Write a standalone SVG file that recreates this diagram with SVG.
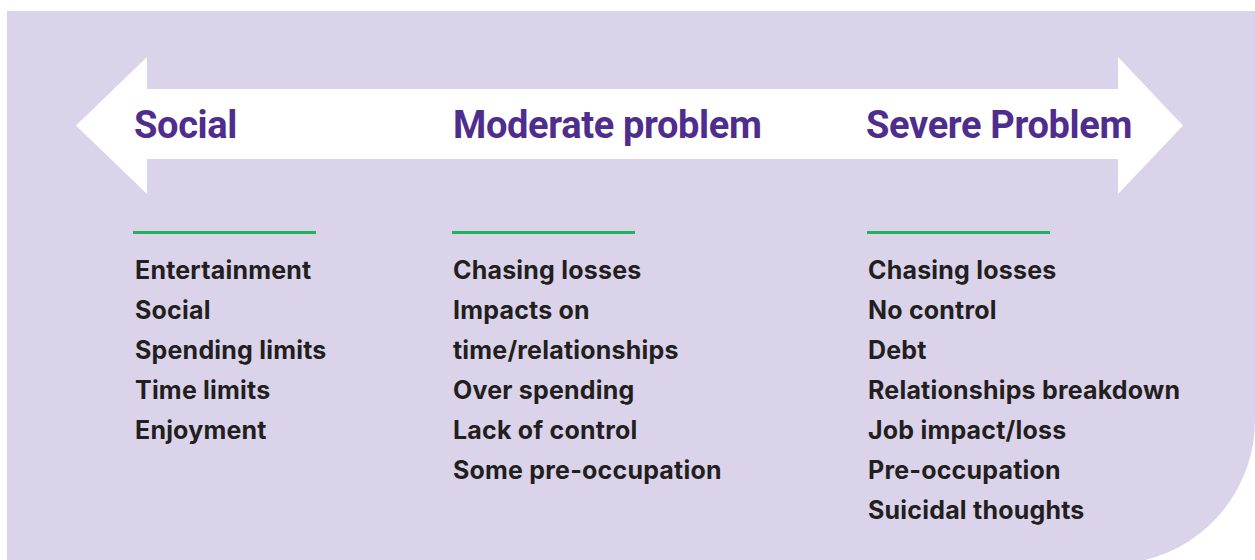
<svg xmlns="http://www.w3.org/2000/svg" width="1255" height="560" viewBox="0 0 1255 560">
  <style>
    .title { font-family: Roboto, "Liberation Sans", sans-serif; font-weight: 700; font-size: 38px; letter-spacing: -0.35px; fill: #4f2d8e; }
    .item { font-family: Inter, "Liberation Sans", sans-serif; font-weight: 700; font-size: 25px; letter-spacing: 0.2px; fill: #231f20; }
    .rule { fill: #1fb35b; }
  </style>
  <rect x="0" y="0" width="1255" height="560" fill="#ffffff"/>
  <path id="background" d="M7 11 H1255 V420 A144 144 0 0 1 1145 560 H7 Z" fill="#dad3ea"/>
  <polygon id="arrow" points="76,125.5 147,57 147,89 1118,89 1118,57 1183,125.5 1118,194 1118,159 147,159 147,194" fill="#ffffff"/>
  <g id="connectors"></g>
  <g id="social">
    <text class="title" x="134" y="138">Social</text>
    <rect class="rule" x="133" y="231" width="183" height="3"/>
    <text class="item" x="135" y="279">Entertainment</text>
    <text class="item" x="135" y="319">Social</text>
    <text class="item" x="135" y="359">Spending limits</text>
    <text class="item" x="135" y="399">Time limits</text>
    <text class="item" x="135" y="439">Enjoyment</text>
  </g>
  <g id="moderate">
    <text class="title" x="453" y="138">Moderate problem</text>
    <rect class="rule" x="452" y="231" width="183" height="3"/>
    <text class="item" x="453" y="279">Chasing losses</text>
    <text class="item" x="453" y="319">Impacts on</text>
    <text class="item" x="453" y="359">time/relationships</text>
    <text class="item" x="453" y="399">Over spending</text>
    <text class="item" x="453" y="439">Lack of control</text>
    <text class="item" x="453" y="479">Some pre-occupation</text>
  </g>
  <g id="severe">
    <text class="title" x="866" y="138">Severe Problem</text>
    <rect class="rule" x="867" y="231" width="183" height="3"/>
    <text class="item" x="868" y="279">Chasing losses</text>
    <text class="item" x="868" y="319">No control</text>
    <text class="item" x="868" y="359">Debt</text>
    <text class="item" x="868" y="399">Relationships breakdown</text>
    <text class="item" x="868" y="439">Job impact/loss</text>
    <text class="item" x="868" y="479">Pre-occupation</text>
    <text class="item" x="868" y="519">Suicidal thoughts</text>
  </g>
</svg>
